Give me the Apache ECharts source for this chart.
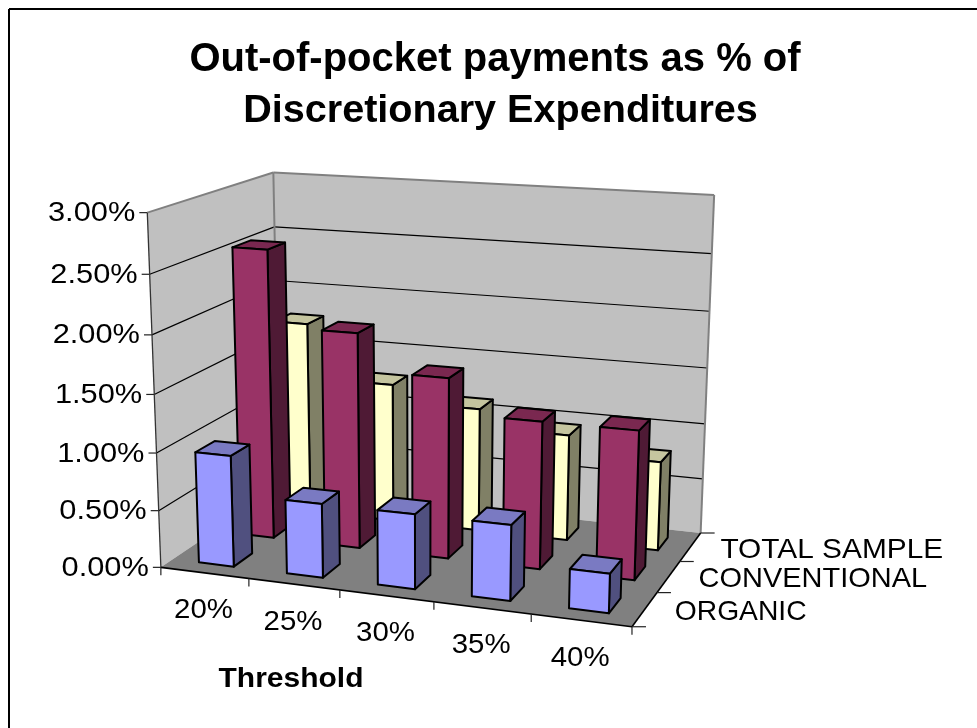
<!DOCTYPE html>
<html><head><meta charset="utf-8">
<style>html,body{margin:0;padding:0;background:#fff}#c{width:977px;height:728px}</style>
<script src="https://cdn.jsdelivr.net/npm/echarts@6/dist/echarts.min.js"></script>
</head><body><div id="c"></div>
<script>
var categories = ['20%','25%','30%','35%','40%'];
var rowNames = ['TOTAL SAMPLE','CONVENTIONAL','ORGANIC'];
var totalSample = [1.75,1.26,1.11,0.95,0.79];
var conventional = [2.56,1.90,1.58,1.28,1.28];
var organic = [0.97,0.64,0.64,0.64,0.33];
var valueTicks = [0,0.5,1,1.5,2,2.5,3];
var valueLabels = ['0.00%','0.50%','1.00%','1.50%','2.00%','2.50%','3.00%'];
var FONT = '"Liberation Sans", Arial, sans-serif';
var rowLabelStretch = [1.085,1.053,1.027];

// camera calibration: box corners (category, depth, height) -> page pixel
var anchors = [
 [0,0,0,161.7,567.7],[1,0,0,631.7,626.7],[1,1,0,701,533],[0,1,0,279,487],
 [0,0,1,146.7,212.3],[0,1,1,274,172.7],[1,1,1,714,195]];
function solve(A,b){var n=b.length;for(var i=0;i<n;i++){var m=i;for(var r=i+1;r<n;r++)if(Math.abs(A[r][i])>Math.abs(A[m][i]))m=r;
 var t=A[i];A[i]=A[m];A[m]=t;t=b[i];b[i]=b[m];b[m]=t;
 for(r=i+1;r<n;r++){var f=A[r][i]/A[i][i];for(var c=i;c<n;c++)A[r][c]-=f*A[i][c];b[r]-=f*b[i];}}
 var x=[];for(i=n-1;i>=0;i--){var s=b[i];for(c=i+1;c<n;c++)s-=A[i][c]*x[c];x[i]=s/A[i][i];}return x;}
var P=(function(){var R=[],B=[];anchors.forEach(function(a){var u=a[0],v=a[1],w=a[2],x=a[3],y=a[4];
 R.push([u,v,w,1,0,0,0,0,-x*u,-x*v,-x*w]);B.push(x);R.push([0,0,0,0,u,v,w,1,-y*u,-y*v,-y*w]);B.push(y);});
 var N=[],C=[];for(var i=0;i<11;i++){N[i]=[];C[i]=0;for(var j=0;j<11;j++){N[i][j]=0;for(var k=0;k<R.length;k++)N[i][j]+=R[k][i]*R[k][j];}
 for(k=0;k<R.length;k++)C[i]+=R[k][i]*B[k];}return solve(N,C);})();
function proj(u,v,w){var d=P[8]*u+P[9]*v+P[10]*w+1;return [(P[0]*u+P[1]*v+P[2]*w+P[3])/d,(P[4]*u+P[5]*v+P[6]*w+P[7])/d];}
var nCat=categories.length,nRow=rowNames.length,maxV=3,GAP=0.4,GAPD=0.45;

function frameItem(params,api){
 function pt(u,v,w){return api.coord(proj(u,v,w));}
 function poly(pts,fill,stroke,lw){return {type:'polygon',shape:{points:pts},style:{fill:fill,stroke:stroke||'none',lineWidth:lw||0}};}
 function line(a,b,stroke,lw){return {type:'line',shape:{x1:a[0],y1:a[1],x2:b[0],y2:b[1]},style:{stroke:stroke,lineWidth:lw,fill:'none'}};}
 function txt(s,x,y,align,size,sx){var c=api.coord([x,y]);return {type:'text',x:c[0],y:c[1],scaleX:sx,style:{text:s,fill:'#000',font:'normal '+size+'px '+FONT,textAlign:align,textVerticalAlign:'middle'}};}
 var ch=[];
 ch.push(poly([pt(0,0,0),pt(0,1,0),pt(0,1,1),pt(0,0,1)],'#c0c0c0'));
 ch.push(poly([pt(0,1,0),pt(1,1,0),pt(1,1,1),pt(0,1,1)],'#c0c0c0'));
 ch.push(poly([pt(0,0,0),pt(1,0,0),pt(1,1,0),pt(0,1,0)],'#808080'));
 valueTicks.forEach(function(t){var w=t/maxV;
  if(t>0&&t<maxV){ch.push(line(pt(0,0,w),pt(0,1,w),'#000',1.2));ch.push(line(pt(0,1,w),pt(1,1,w),'#000',1.2));}
  var a=pt(0,0,w);ch.push(line([a[0]-8,a[1]],a,'#222',1.2));});
 ch.push(line(pt(0,0,1),pt(0,1,1),'#808080',2));ch.push(line(pt(0,1,1),pt(1,1,1),'#808080',2));
 ch.push(line(pt(0,1,0),pt(0,1,1),'#808080',2));ch.push(line(pt(1,1,0),pt(1,1,1),'#808080',2));
 ch.push(line(pt(0,0,0),pt(0,0,1),'#333',1.3));
 ch.push(line(pt(0,0,0),pt(1,0,0),'#000',1.6));ch.push(line(pt(1,0,0),pt(1,1,0),'#000',1.6));
 for(var i=0;i<=nCat;i++){var a=pt(i/nCat,0,0);ch.push(line(a,[a[0],a[1]+8],'#222',1.2));}
 for(i=0;i<=nRow;i++){a=pt(1,i/nRow,0);ch.push(line(a,[a[0]+14,a[1]],'#222',1.2));}
 valueTicks.forEach(function(t,k){var q=proj(0,0,t/maxV);ch.push(txt(valueLabels[k],q[0]-12,q[1]+1,'right',27.5,1.12));});
 categories.forEach(function(s,k){var q=proj((k+0.5)/nCat,0,0);ch.push(txt(s,q[0]-1,q[1]+38,'center',27,1.09));});
 rowNames.forEach(function(s,k){var q=proj(1,(nRow-k-0.5)/nRow,0);ch.push(txt(s,q[0]+30,q[1]+3,'left',27.5,rowLabelStretch[k]));});
 return {type:'group',children:ch};
}
function barItem(row,colors){return function(params,api){
 var i=api.value(0),val=api.value(1),h=val/maxV;
 var bw=(1/nCat)*GAP,bd=(1/nRow)*GAPD;
 var u0=(i+0.5)/nCat-bw/2,u1=u0+bw;
 var vc=(row+0.5)/nRow,v0=vc-bd/2,v1=vc+bd/2;
 function pt(u,v,w){return api.coord(proj(u,v,w));}
 function face(pts,fill){return {type:'polygon',shape:{points:pts},style:{fill:fill,stroke:'#000',lineWidth:2,lineJoin:'round'}};}
 return {type:'group',children:[
  face([pt(u1,v0,0),pt(u1,v1,0),pt(u1,v1,h),pt(u1,v0,h)],colors[2]),
  face([pt(u0,v0,h),pt(u1,v0,h),pt(u1,v1,h),pt(u0,v1,h)],colors[1]),
  face([pt(u0,v0,0),pt(u1,v0,0),pt(u1,v0,h),pt(u0,v0,h)],colors[0])]};
};}
function series(name,values,row,colors){return {type:'custom',name:name,coordinateSystem:'cartesian2d',clip:false,silent:true,
 data:values.map(function(v,i){return [i,v];}),encode:{x:0,y:1},renderItem:barItem(row,colors)};}

var chart=echarts.init(document.getElementById('c'),null,{renderer:'canvas'});
chart.setOption({
 animation:false,backgroundColor:'#fff',
 grid:{left:0,right:0,top:0,bottom:0},
 xAxis:{type:'value',min:0,max:977,show:false},
 yAxis:{type:'value',min:0,max:728,inverse:true,show:false},
 title:[
  {text:'Out-of-pocket payments as % of',left:490,top:35,textAlign:'center',textStyle:{fontFamily:FONT,fontWeight:'bold',fontSize:40,color:'#000'}},
  {text:'Discretionary Expenditures',left:495.5,top:86,textAlign:'center',textStyle:{fontFamily:FONT,fontWeight:'bold',fontSize:39.6,color:'#000'}}],
 graphic:[
  {type:'line',silent:true,shape:{x1:9,y1:9,x2:977,y2:9},style:{stroke:'#000',lineWidth:2}},
  {type:'line',silent:true,shape:{x1:9,y1:9,x2:9,y2:728},style:{stroke:'#000',lineWidth:2}},
  {type:'text',silent:true,x:291,y:679,scaleX:1.09,style:{text:'Threshold',font:'bold 27.5px '+FONT,fill:'#000',textAlign:'center',textVerticalAlign:'middle'}}],
 series:[
  {type:'custom',name:'frame',coordinateSystem:'cartesian2d',clip:false,silent:true,data:[[0,0]],encode:{x:0,y:1},renderItem:frameItem,z:1},
  Object.assign(series(rowNames[0],totalSample,2,['#ffffcc','#c5c59f','#808066']),{z:2}),
  Object.assign(series(rowNames[1],conventional,1,['#993366','#7a2850','#4f1a35']),{z:3}),
  Object.assign(series(rowNames[2],organic,0,['#9999ff','#7a7ac2','#50507f']),{z:4})
 ]
});
</script></body></html>
